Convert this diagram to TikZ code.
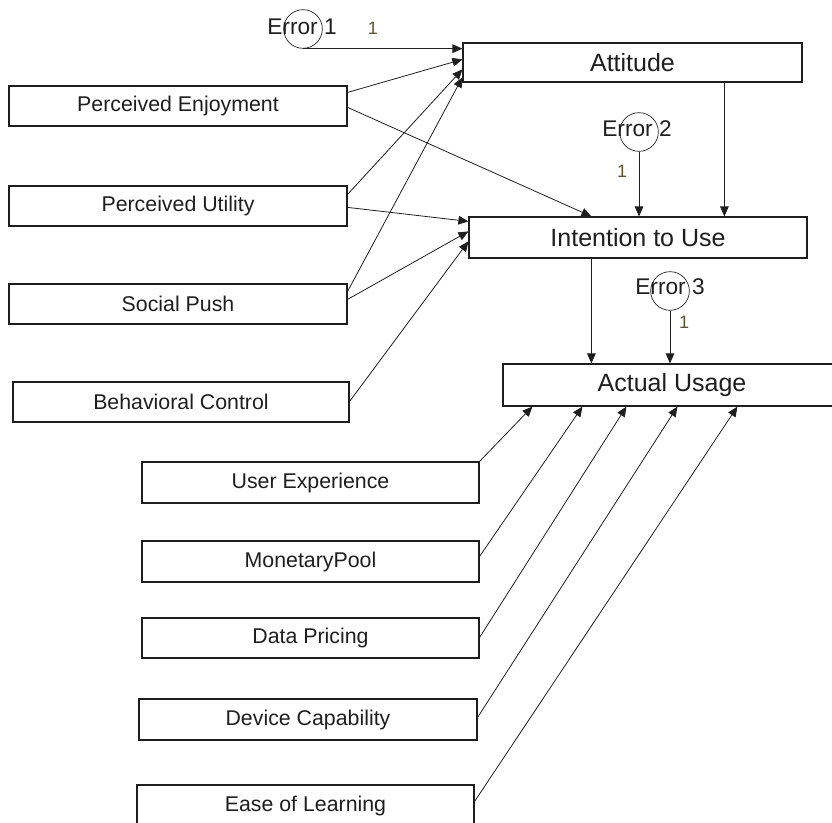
\documentclass[tikz,border=0pt]{standalone}
\usepackage{fontspec}
\setmainfont{Liberation Sans}
\usetikzlibrary{calc,arrows.meta}
\definecolor{ink}{RGB}{30,30,30}
\definecolor{numc}{RGB}{95,85,50}
\begin{document}
\begin{tikzpicture}[x=0.75pt,y=-0.75pt,
  box/.style={draw=ink,line width=0.9pt,inner sep=0pt,text=ink,
    font=\fontsize{16}{18}\selectfont,minimum height=30pt},
  mainbox/.style={box,font=\fontsize{18.75}{21}\selectfont},
  errc/.style={draw=ink,line width=0.5pt,circle,inner sep=0pt,minimum size=29pt},
  errtext/.style={text=ink,inner sep=0pt,font=\fontsize{17}{19}\selectfont},
  numl/.style={text=numc,inner sep=0pt,font=\fontsize{13.5}{15}\selectfont},
  arr/.style={draw=ink,line width=0.6pt,-{Triangle[length=7.5pt,width=6.5pt]}}]
\useasboundingbox (0,0) rectangle (832,823);
\clip (0,0) rectangle (832,823);
% main boxes
\node[mainbox,minimum width=254.25pt,minimum height=29.25pt] (att) at (632.5,62.5) {Attitude};
\node[mainbox,minimum width=253.5pt,minimum height=30.75pt] (int) at (638,237.5) {Intention to Use};
\node[mainbox,minimum width=253.5pt,minimum height=31.5pt] (au) at (672,385) {Actual Usage};
% left boxes
\node[box,minimum width=253.5pt] (pe) at (178,106) {Perceived Enjoyment};
\node[box,minimum width=253.5pt] (pu) at (178,206) {Perceived Utility};
\node[box,minimum width=253.5pt] (sp) at (178,304) {Social Push};
\node[box,minimum width=252pt] (bc) at (181,402) {Behavioral Control};
% lower boxes
\node[box,minimum width=252.75pt,minimum height=30.75pt] (ue) at (310.5,482.5) {User Experience};
\node[box,minimum width=252.75pt,minimum height=30.75pt] (mp) at (310.5,561.5) {MonetaryPool};
\node[box,minimum width=252.75pt] (dp) at (310.5,638) {Data Pricing};
\node[box,minimum width=253.5pt,minimum height=30.75pt] (dc) at (308,719.5) {Device Capability};
\node[box,minimum width=252.75pt,minimum height=30.75pt] (el) at (305.5,805.5) {Ease of Learning};
% error terms
\node[errc] (e1) at (303,29) {};
\node[errtext] at (302,27) {Error 1};
\node[numl] at (373,28) {1};
\node[errc] (e2) at (639,132) {};
\node[errtext] at (637,129) {Error 2};
\node[numl] at (622,171) {1};
\node[errc] (e3) at (670,291) {};
\node[errtext] at (670,287) {Error 3};
\node[numl] at (684,322) {1};
% connectors into Attitude
\draw[arr] (e1.south) -- (e1.south -| att.west);
\draw[arr] ($(pe.north east)+(0,7)$) -- ($(att.north west)+(0,17)$);
\draw[arr] ($(pu.north east)+(0,9)$) -- ($(att.north west)+(0,27)$);
\draw[arr] ($(sp.north east)+(0,8)$) -- ($(att.north west)+(0,35)$);
% connectors into Intention
\draw[arr] ($(pe.north east)+(0,22)$) -- ($(int.north west)+(123,0)$);
\draw[arr] ($(pu.north east)+(0,22)$) -- ($(int.north west)+(0,5)$);
\draw[arr] ($(sp.north east)+(0,16)$) -- ($(int.north west)+(0,15)$);
\draw[arr] ($(bc.north east)+(0,20)$) -- ($(int.north west)+(0,25)$);
\draw[arr] ($(att.south west)+(262,0)$) coordinate (a1) -- (a1 |- int.north);
\draw[arr] (e2.south) -- (e2.south |- int.north);
% connectors into Actual Usage
\draw[arr] ($(int.south west)+(123,0)$) coordinate (i1) -- (i1 |- au.north);
\draw[arr] (e3.south) -- (e3.south |- au.north);
\draw[arr] (ue.north east) -- ($(au.south west)+(30,0)$);
\draw[arr] ($(mp.north east)+(0,16)$) -- ($(au.south west)+(80,0)$);
\draw[arr] ($(dp.north east)+(0,20)$) -- ($(au.south west)+(124,0)$);
\draw[arr] ($(dc.north east)+(0,19)$) -- ($(au.south west)+(175,0)$);
\draw[arr] ($(el.north east)+(0,17)$) -- ($(au.south west)+(235,0)$);
\end{tikzpicture}
\end{document}
